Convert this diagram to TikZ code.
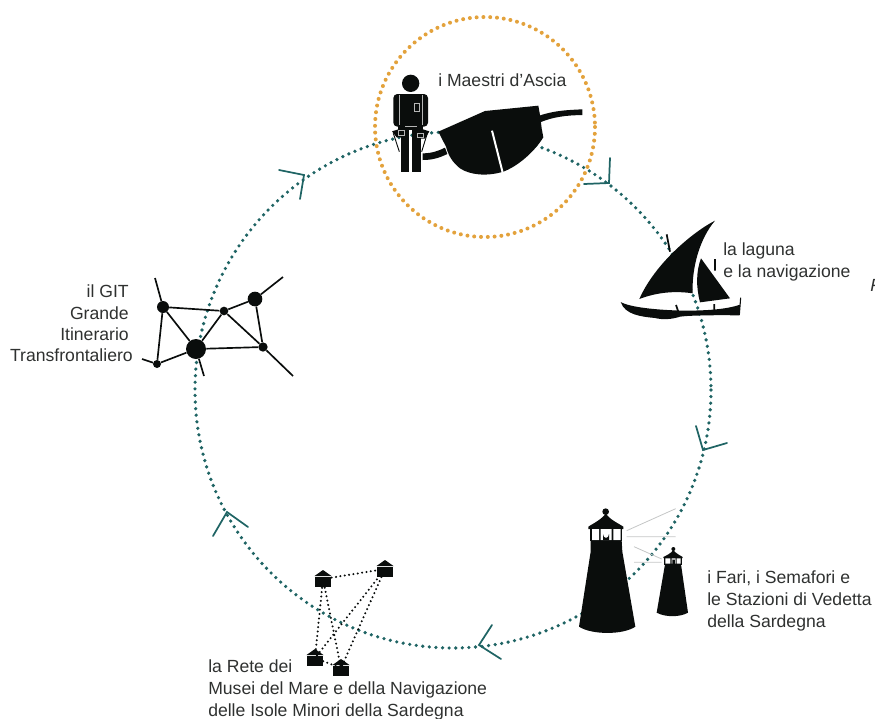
\documentclass[tikz,border=0pt]{standalone}
\usepackage{fontspec}
\setmainfont{Liberation Sans}
\definecolor{teal}{HTML}{1F6464}
\definecolor{ochre}{HTML}{E3A23C}
\definecolor{ink}{HTML}{0A0D0C}
\definecolor{haze}{HTML}{C4C6C6}
\tikzset{
  lab/.style={inner sep=0pt,anchor=base west,font=\fontsize{13.2pt}{16pt}\selectfont,text=ink!85!white},
  labr/.style={lab,anchor=base east},
  ring/.style={draw=teal,line width=2.7pt,line cap=round,dash pattern=on 0pt off 4.95pt},
  halo/.style={draw=ochre,line width=3pt,line cap=round,dash pattern=on 0pt off 5.1pt},
  tip/.style={draw=teal,line width=1.3pt,line cap=round,line join=miter},
  wire/.style={draw=ink,line width=1.25pt},
  hub/.style={circle,fill=ink,inner sep=0pt,minimum size=#1},
  link/.style={draw=ink,line width=1.7pt,line cap=round,dash pattern=on 0pt off 3.3pt},
  ray/.style={draw=haze,line width=.6pt},
  zoomed/.style={x=.25pt,y=-.25pt},
  museum/.pic={
    \fill[ink] (0,-9) -- (8.5,-3) -- (-8.5,-3) -- cycle;
    \fill[ink] (-8,-2.2) rectangle (8,7.5);
  }
}
\begin{document}
\begin{tikzpicture}[x=.75pt,y=-.75pt]
\useasboundingbox (0,0) rectangle (875,718);
% rings
\draw[ring] (453,390) circle[radius=258];
\draw[halo] (485,127) circle[radius=110];
% arrow tips
\coordinate (a1) at (609,183); \coordinate (a1l) at (584,184); \coordinate (a1r) at (610,158);
\coordinate (a2) at (703,450); \coordinate (a2l) at (696,426); \coordinate (a2r) at (727,443);
\coordinate (a3) at (479,645); \coordinate (a3l) at (492,625); \coordinate (a3r) at (501,659);
\coordinate (a4) at (227,512); \coordinate (a4l) at (213,536); \coordinate (a4r) at (248,527);
\coordinate (a5) at (304,175); \coordinate (a5l) at (279,170); \coordinate (a5r) at (300,199);
\foreach \t in {a1,a2,a3,a4,a5}{\draw[tip] (\t l) -- (\t) -- (\t r);}
% maestro and hull
\begin{scope}[shift={(370,50)},zoomed]
  \fill[ink] (122,100) circle[radius=26];
  \fill[ink,rounded corners=3pt] (70,132) rectangle (174,230);
  \fill[ink] (92,235) rectangle (118,365);
  \fill[ink] (125,235) rectangle (152,365);
  \fill[ink] (85,225) rectangle (160,240);
  \fill[ink] (66,244) -- (105,232) -- (105,262) -- (80,262) -- cycle;
  \fill[ink] (178,244) -- (140,232) -- (140,266) -- (165,266) -- cycle;
  \draw[ink,line width=.7pt] (70,250) -- (88,305) (172,250) -- (155,305);
  \draw[white!70!ink,line width=.25pt] (86,135) -- (86,225) (157,135) -- (157,225)
     (133,160) rectangle (148,182) (105,228) -- (140,228);
  \draw[white!70!ink,line width=.25pt] (85,240) rectangle (103,255) (140,248) rectangle (160,262);
  % tails
  \fill[ink] (505,198) .. controls (550,182) and (590,180) .. (637,178) -- (637,195) .. controls (590,196) and (550,200) .. (508,218) -- cycle;
  \fill[ink] (158,310) .. controls (185,310) and (205,303) .. (225,293) -- (232,312) .. controls (205,325) and (185,330) .. (158,330) -- cycle;
  % hull
  \fill[ink] (205,245) -- (345,183) -- (505,167) -- (510,195) -- (515,235) -- (520,262)
     .. controls (490,310) and (440,350) .. (400,365)
     .. controls (350,380) and (300,375) .. (270,355)
     .. controls (245,335) and (235,315) .. (228,290) -- cycle;
  \draw[white,line width=1.5pt] (366,242) -- (398,368);
\end{scope}
% boat
\begin{scope}[shift={(600,200)},zoomed]
  \fill[ink] (345,62) .. controls (280,95) and (165,190) .. (118,297)
     .. controls (170,277) and (225,272) .. (278,280)
     .. controls (275,200) and (300,115) .. (345,62) -- cycle;
  \fill[ink] (303,175) -- (390,295) -- (300,307) .. controls (288,260) and (288,215) .. (303,175) -- cycle;
  \draw[ink,line width=1.3pt] (200,103) -- (210,155) (345,177) -- (345,212) (228,315) -- (235,335) (343,312) -- (343,330);
  \draw[ink,line width=.8pt] (422,293) -- (418,345);
  \fill[ink] (62,306) .. controls (90,322) and (170,330) .. (250,332)
     .. controls (320,332) and (380,328) .. (420,314)
     -- (418,346) .. controls (340,345) and (270,346) .. (240,350)
     .. controls (215,358) and (190,360) .. (165,354)
     .. controls (125,350) and (75,345) .. (62,306) -- cycle;
\end{scope}
% lighthouses
\begin{scope}[shift={(560,420)},zoomed]
  \draw[ray] (200,332) -- (347,266) (200,350) -- (347,350) (222,380) -- (305,417) (222,427) -- (305,427);
  \fill[ink] (137,275) circle[radius=10];
  \fill[ink] (137,280) .. controls (148,298) and (175,310) .. (190,320) -- (190,327) -- (85,327) -- (85,320) .. controls (100,310) and (126,298) .. (137,280) -- cycle;
  \fill[ink] (91,322) rectangle (186,364);
  \fill[white] (96,327) rectangle (117,360) (122,327) rectangle (155,360) (160,327) rectangle (182,360);
  \fill[ink] (129,360) -- (129,342) arc[start angle=180,end angle=0,x radius=9,y radius=12] -- (147,360) -- cycle;
  \fill[ink] (92,362) -- (185,362) -- (187,395) -- (226,620) .. controls (190,645) and (95,645) .. (57,620) -- (92,395) -- cycle;
  \fill[ink] (340,387) circle[radius=6];
  \fill[ink] (340,390) .. controls (347,400) and (360,406) .. (368,411) -- (368,414) -- (310,414) -- (310,411) .. controls (320,406) and (333,400) .. (340,390) -- cycle;
  \fill[ink] (313,410) rectangle (365,434);
  \fill[white] (316,415) rectangle (331,431) (335,415) rectangle (347,419) (350,415) rectangle (362,431);
  \fill[white] (335,419) rectangle (337,431) (345,419) rectangle (347,431);
  \fill[ink] (315,433) -- (363,433) -- (384,578) .. controls (360,592) and (315,592) .. (290,578) -- cycle;
\end{scope}
% museums
\coordinate (m1) at (323,579);
\coordinate (m2) at (385,569);
\coordinate (m3) at (315,658);
\coordinate (m4) at (341,668);
\draw[link] (m1) -- (m2);
\draw[link] (m1) -- (m3);
\draw[link] (m1) -- (m4);
\draw[link] (m2) -- (m3);
\draw[link] (m2) -- (m4);
\draw[link] (m3) -- (m4);
\foreach \m in {m1,m2,m3,m4}{\pic at (\m) {museum};}
% network
\node[hub=9pt] (nA) at (163,307) {};
\node[hub=15pt] (nB) at (196,349) {};
\node[hub=6.5pt] (nC) at (224,311) {};
\node[hub=11pt] (nD) at (255,299) {};
\node[hub=7pt] (nE) at (263,347) {};
\node[hub=6pt] (nF) at (157,364) {};
\coordinate (fA) at (155,278);
\coordinate (fD) at (283,277);
\coordinate (fE) at (293,376);
\coordinate (fB) at (204,376);
\coordinate (fF) at (142,359);
\draw[wire] (nA) -- (nC);
\draw[wire] (nA) -- (nB);
\draw[wire] (nA) -- (nF);
\draw[wire] (nF) -- (nB);
\draw[wire] (nB) -- (nC);
\draw[wire] (nB) -- (nE);
\draw[wire] (nC) -- (nD);
\draw[wire] (nC) -- (nE);
\draw[wire] (nD) -- (nE);
\draw[wire] (nA) -- (fA);
\draw[wire] (nD) -- (fD);
\draw[wire] (nE) -- (fE);
\draw[wire] (nB) -- (fB);
\draw[wire] (nF) -- (fF);
% labels
\node[lab] (t1) at (438,86) {i Maestri d’Ascia};
\node[lab] (t2) at (723,255) {la laguna};
\node[lab] (t3) at (723,277) {e la navigazione};
\node[lab] (t4) at (707,583) {i Fari, i Semafori e};
\node[lab] (t5) at (707,605) {le Stazioni di Vedetta};
\node[lab] (t6) at (707,627) {della Sardegna};
\node[lab] (t7) at (208,672) {la Rete dei};
\node[lab] (t8) at (208,694) {Musei del Mare e della Navigazione};
\node[lab] (t9) at (208,716) {delle Isole Minori della Sardegna};
\node[labr] (t10) at (129,297) {il GIT};
\node[labr] (t11) at (129,319) {Grande};
\node[labr] (t12) at (129,340) {Itinerario};
\node[labr] (t13) at (133,361) {Transfrontaliero};
\node[lab,font=\fontsize{13.2pt}{16pt}\selectfont\itshape] (t14) at (870,291) {F};
\end{tikzpicture}
\end{document}
